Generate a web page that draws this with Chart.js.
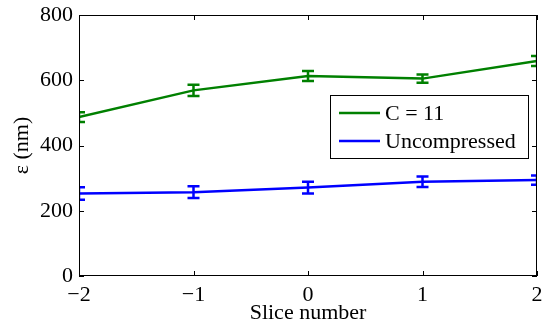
<!DOCTYPE html>
<html>
<head>
<meta charset="utf-8">
<script src="https://cdn.jsdelivr.net/npm/chart.js@4"></script>
<style>
  html, body { margin: 0; padding: 0; background: #fff; }
  #wrap { width: 545px; height: 326px; position: relative; }
</style>
</head>
<body>
<div id="wrap"><canvas id="chart"></canvas></div>
<script>
// data
const slices = [-2, -1, 0, 1, 2];
const xTickLabels = ['\u22122', '\u22121', '0', '1', '2'];
const yTicks = [0, 200, 400, 600, 800];

const compressedLabel = 'C = 11';
const compressedVals = [487, 569, 613, 605, 659];
const compressedErr = [15, 17, 15, 13, 15];

const uncompLabel = 'Uncompressed';
const uncompVals = [253, 257, 271, 289, 294];
const uncompErr = [19, 18, 18, 16, 14];

const FONT = "'Liberation Serif', 'Times New Roman', serif";
const FS = 22;

function toPoints(vals) {
  return slices.map((x, i) => ({ x: x, y: vals[i] }));
}

// error bars with caps, clipped to plot area
const errorBars = {
  id: 'errorBars',
  afterDatasetsDraw(chart) {
    const { ctx, chartArea, scales } = chart;
    const errs = [compressedErr, uncompErr];
    ctx.save();
    ctx.beginPath();
    ctx.rect(chartArea.left, chartArea.top, chartArea.right - chartArea.left, chartArea.bottom - chartArea.top);
    ctx.clip();
    chart.data.datasets.forEach((ds, di) => {
      ctx.strokeStyle = ds.borderColor;
      ctx.lineWidth = 2.5;
      ds.data.forEach((p, i) => {
        const x = scales.x.getPixelForValue(p.x);
        const yHi = scales.y.getPixelForValue(p.y + errs[di][i]);
        const yLo = scales.y.getPixelForValue(p.y - errs[di][i]);
        ctx.beginPath();
        ctx.moveTo(x, yHi); ctx.lineTo(x, yLo);
        ctx.moveTo(x - 6, yHi); ctx.lineTo(x + 6, yHi);
        ctx.moveTo(x - 6, yLo); ctx.lineTo(x + 6, yLo);
        ctx.stroke();
      });
    });
    ctx.restore();
  }
};

// box, inward ticks, legend inside the plot
const frame = {
  id: 'frame',
  afterDraw(chart) {
    const { ctx, chartArea: a, scales } = chart;
    ctx.save();
    ctx.strokeStyle = '#000';
    ctx.lineWidth = 1;
    ctx.strokeRect(a.left + 0.5, a.top + 0.5, a.right - a.left - 1, a.bottom - a.top - 1);
    ctx.beginPath();
    slices.forEach(v => {
      const x = Math.round(scales.x.getPixelForValue(v)) + 0.5;
      ctx.moveTo(x, a.bottom); ctx.lineTo(x, a.bottom - 5);
      ctx.moveTo(x, a.top); ctx.lineTo(x, a.top + 5);
    });
    yTicks.forEach(v => {
      const y = Math.round(scales.y.getPixelForValue(v)) + 0.5;
      ctx.moveTo(a.left, y); ctx.lineTo(a.left + 5, y);
      ctx.moveTo(a.right, y); ctx.lineTo(a.right - 5, y);
    });
    ctx.stroke();

    // legend
    const lx = 330, ly = 95, lw = 198, lh = 63;
    ctx.fillStyle = '#fff';
    ctx.fillRect(lx, ly, lw, lh);
    ctx.strokeRect(lx + 0.5, ly + 0.5, lw, lh);
    ctx.font = FS + 'px ' + FONT;
    ctx.textBaseline = 'middle';
    chart.data.datasets.forEach((ds, i) => {
      const y = ly + 18 + i * 28;
      ctx.strokeStyle = ds.borderColor;
      ctx.lineWidth = 2.5;
      ctx.beginPath();
      ctx.moveTo(lx + 9, y); ctx.lineTo(lx + 50, y);
      ctx.stroke();
      ctx.fillStyle = '#000';
      ctx.fillText(ds.label, lx + 55, y + 1);
    });
    ctx.restore();
  }
};

new Chart(document.getElementById('chart'), {
  type: 'line',
  data: {
    datasets: [
      { label: compressedLabel, data: toPoints(compressedVals), borderColor: '#008000', borderWidth: 2.5, pointRadius: 0, tension: 0 },
      { label: uncompLabel, data: toPoints(uncompVals), borderColor: '#0000ff', borderWidth: 2.5, pointRadius: 0, tension: 0 }
    ]
  },
  options: {
    responsive: true,
    maintainAspectRatio: false,
    animation: false,
    layout: { padding: { top: 15, right: 8, left: 0, bottom: 0 } },
    plugins: { legend: { display: false }, tooltip: { enabled: false } },
    scales: {
      x: {
        type: 'linear',
        min: -2, max: 2,
        afterFit(s) { s.height = 50; s.paddingLeft = 0; s.paddingRight = 0; },
        afterBuildTicks(s) { s.ticks = slices.map(v => ({ value: v })); },
        grid: { display: false, drawTicks: false },
        border: { display: false },
        ticks: {
          color: '#000', padding: 6, maxRotation: 0,
          font: { family: FONT, size: FS },
          callback: (v) => xTickLabels[slices.indexOf(v)]
        },
        title: { display: true, text: 'Slice number', color: '#000', padding: { top: 0, bottom: 0 }, font: { family: FONT, size: FS } }
      },
      y: {
        min: 0, max: 800,
        afterFit(s) { s.width = 79; s.paddingTop = 0; s.paddingBottom = 0; },
        afterBuildTicks(s) { s.ticks = yTicks.map(v => ({ value: v })); },
        grid: { display: false, drawTicks: false },
        border: { display: false },
        ticks: { color: '#000', padding: 6, font: { family: FONT, size: FS } },
        title: { display: true, text: '\u03b5 (nm)', color: '#000', padding: { top: 9, bottom: 4 }, font: { family: FONT, size: FS } }
      }
    }
  },
  plugins: [errorBars, frame]
});
</script>
</body>
</html>
